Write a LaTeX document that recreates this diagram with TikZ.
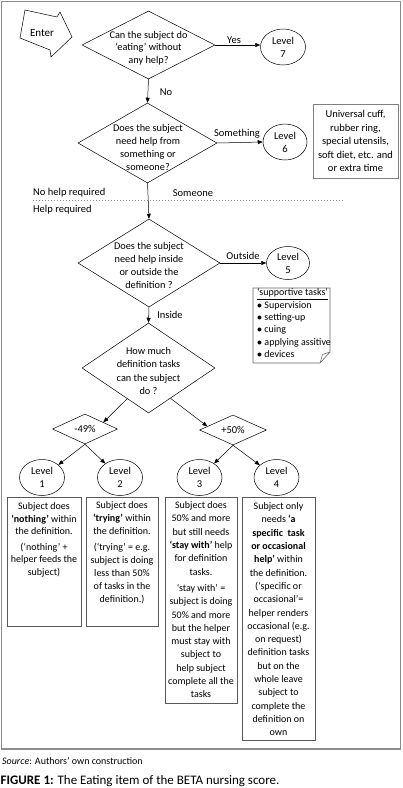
\documentclass[tikz,border=0pt]{standalone}
\usepackage{fontspec}
\setmainfont{Carlito}
\usetikzlibrary{shapes.geometric,arrows.meta,calc}
\begin{document}
\begin{tikzpicture}[x=1pt,y=-1pt,
  every node/.style={font=\fontsize{10}{13}\selectfont},
  arr/.style={-{Triangle[length=5pt,width=4pt]}, line width=0.5pt},
  dia/.style={draw, diamond, inner sep=0pt, line width=0.5pt},
  lvl/.style={draw, ellipse, inner sep=0pt, align=center, line width=0.5pt,
              minimum width=45pt, minimum height=36pt, font=\fontsize{10.5}{13}\selectfont},
  txt/.style={align=center, inner sep=0pt},
  lab/.style={inner sep=0pt, font=\fontsize{10.5}{13}\selectfont},
  descbox/.style={draw=black!65, line width=0.6pt, anchor=north west, inner sep=0pt},
  desctxt/.style={anchor=north, align=center, inner sep=0pt},
]
\useasboundingbox (0,0) rectangle (403,788);
\fill[white] (0,0) rectangle (403,788);
% frame
\draw[draw=black!45, line width=1.2pt] (1.2,1.2) rectangle (400.5,749);

% Enter arrow
\draw[line width=0.5pt] (25,10) -- (57,17) -- (60,12) -- (72,37) -- (51,57) -- (50,50) -- (20,38) -- cycle;
\node[lab, font=\fontsize{11}{13}\selectfont] (enter) at (42,33) {Enter};

% diamond 1
\node[dia, minimum width=133pt, minimum height=68pt] (d1) at (148.5,45) {};
\node[txt, font=\fontsize{10.3}{12.5}\selectfont] (t1) at (148.5,48) {Can the subject do\\‘eating’ without\\any help?};
\node[lvl] (l7) at (283,47) {Level\\7};
\draw[arr] (d1.east) -- (d1.east -| l7.west);
\node[lab] (yes) at (234,40) {Yes};

% diamond 2
\node[dia, minimum width=139pt, minimum height=80pt] (d2) at (147.5,143) {};
\node[txt, font=\fontsize{10.3}{13}\selectfont] (t2) at (148,147.5) {Does the subject\\need help from\\something or\\someone?};
\draw[arr] (d1.south) -- (d2.north);
\node[lab] (no) at (166,92) {No};
\node[lvl, minimum width=44pt, minimum height=36pt] (l6) at (285,142) {Level\\6};
\draw[arr] (d2.east) -- (l6.west);
\node[lab] (something) at (237,134) {Something};
\node[draw=black!50, line width=0.6pt, minimum width=85pt, minimum height=74pt, align=center,
      inner sep=0pt, font=\fontsize{10.5}{13.5}\selectfont] (ub) at (355.5,141)
      {Universal cuff,\\rubber ring,\\special utensils,\\soft diet, etc. and\\or extra time};

% separator
\coordinate (sepL) at (33,200);
\coordinate (sepR) at (343,200);
\draw[black!45, dotted, line width=1pt] (sepL) -- (sepR);
\node[lab, anchor=west] (nohelp) at (33,193) {No help required};
\node[lab] (someone) at (193,193) {Someone};
\node[lab, anchor=west] (help) at (33,210) {Help required};

% diamond 3
\node[dia, minimum width=142pt, minimum height=88pt] (d3) at (149,263) {};
\node[txt, font=\fontsize{10.3}{13}\selectfont] (t3) at (149,265) {Does the subject\\need help inside\\or outside the\\definition ?};
\draw[arr] (d2.south) -- (d3.north);
\node[lvl, minimum width=43pt, minimum height=33pt] (l5) at (288,263) {Level\\5};
\draw[arr] (d3.east) -- (l5.west);
\node[lab] (outside) at (243,256) {Outside};

% supportive tasks note
\draw[black!60, line width=0.6pt] (253,288) -- (330,288) -- (330,352) -- (320,363) -- (253,363) -- cycle;
\draw[black!60, line width=0.5pt] (320,363) -- (322.5,354.5) -- (330,352);
\node[anchor=north west, align=left, inner sep=0pt, font=\fontsize{10}{12.3}\selectfont] (notes) at (257,288.5)
  {\underline{‘supportive tasks’}\\
   $\bullet$\ Supervision\\
   $\bullet$\ setting-up\\
   $\bullet$\ cuing\\
   $\bullet$\ applying assitive\\
   $\bullet$\ devices};

% diamond 4
\node[dia, minimum width=133pt, minimum height=90pt] (d4) at (148.5,368) {};
\node[txt, font=\fontsize{10.3}{13.5}\selectfont] (t4) at (148.5,371) {How much\\definition tasks\\can the subject\\do ?};
\draw[arr] (d3.south) -- (d4.north);
\node[lab] (inside) at (170,315) {Inside};

% percentage diamonds
\node[dia, minimum width=65pt, minimum height=30pt] (m1) at (85,429) {};
\node[lab] (m1t) at (85,429) {-49\%};
\node[dia, minimum width=67pt, minimum height=30pt] (m2) at (233,430) {};
\node[lab] (m2t) at (233,430) {+50\%};
\draw[arr] ($(d4.west)!0.68!(d4.south)$) -- ($(m1.north)!0.56!(m1.east)$);
\draw[arr] ($(d4.south)!0.33!(d4.east)$) -- ($(m2.north)!0.76!(m2.west)$);

% levels 1-4
\node[lvl] (l1) at (42,477.5) {Level\\1};
\node[lvl] (l2) at (120,477.5) {Level\\2};
\node[lvl] (l3) at (199.5,477.5) {Level\\3};
\node[lvl] (l4) at (276.5,477.5) {Level\\4};
\draw[arr] (m1.south) -- (l1);
\draw[arr] (m1.south) -- (l2);
\draw[arr] (m2.south) -- (l3);
\draw[arr] (m2.south) -- (l4);

% description boxes
\node[descbox, minimum width=74pt, minimum height=129pt] (b1) at (7,497) {};
\node[desctxt, font=\fontsize{10}{12.5}\selectfont] (b1t) at (44,502.5)
  {Subject does\\\textbf{‘nothing’} within\\the definition.\\[3pt](‘nothing’ +\\helper feeds the\\subject)};
\node[descbox, minimum width=72pt, minimum height=129pt] (b2) at (86,497) {};
\node[desctxt] (b2t) at (122,501.5)
  {Subject does\\\textbf{‘trying’} within\\the definition.\\[3pt](‘trying’ = e.g.\\subject is doing\\less than 50\%\\of tasks in the\\definition.)};
\node[descbox, minimum width=72pt, minimum height=206pt] (b3) at (165,497) {};
\node[desctxt, font=\fontsize{10}{13.3}\selectfont] (b3t) at (201,501.5)
  {Subject does\\50\% and more\\but still needs\\\textbf{‘stay with’} help\\for definition\\tasks.\\[3pt]‘stay with’ =\\subject is doing\\50\% and more\\but the helper\\must stay with\\subject to\\help subject\\complete all the\\tasks};
\node[descbox, minimum width=73pt, minimum height=243pt] (b4) at (242,497) {};
\node[desctxt, font=\fontsize{10}{13.3}\selectfont] (b4t) at (278.5,502.5)
  {Subject only\\needs \textbf{‘a}\\\textbf{specific\ \ task}\\\textbf{or occasional}\\\textbf{help’} within\\the definition.\\(‘specific or\\occasional’=\\helper renders\\occasional (e.g.\\on request)\\definition tasks\\but on the\\whole leave\\subject to\\complete the\\definition on\\own};

% captions
\node[anchor=west, inner sep=0pt, font=\fontsize{10}{12}\selectfont] (src) at (2,761)
  {\textit{Source}: Authors’ own construction};
\node[anchor=west, inner sep=0pt, font=\fontsize{13}{15}\selectfont] (fig) at (0.5,781)
  {\textbf{FIGURE 1:} The Eating item of the BETA nursing score.};
\end{tikzpicture}
\end{document}
